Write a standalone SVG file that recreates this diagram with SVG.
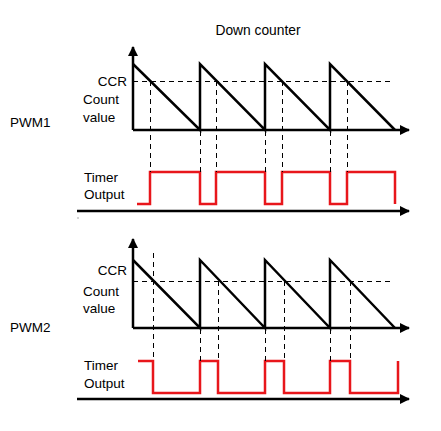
<svg xmlns="http://www.w3.org/2000/svg" width="441" height="431" viewBox="0 0 441 431">
<style>
text{font-family:"Liberation Sans",Arial,sans-serif;font-size:13.5px;fill:#000}
.ax{stroke:#000;stroke-width:2.5;fill:none}
.saw{stroke:#000;stroke-width:2.5;fill:none;stroke-linejoin:miter}
.dash{stroke:#000;stroke-width:1;stroke-dasharray:5,4;fill:none}
.out{stroke:#e8161b;stroke-width:2.5;fill:none;stroke-linejoin:miter}
</style>
<defs>
<marker id="ah" viewBox="0 0 10 10" refX="9" refY="5" markerWidth="10" markerHeight="10" markerUnits="userSpaceOnUse" orient="auto">
<path d="M0,0 L10,5 L0,10 Z" fill="#000"/>
</marker>
</defs>
<rect width="441" height="431" fill="#fff"/>
<text x="258" y="35" text-anchor="middle" style="font-size:13.8px">Down counter</text>
<text x="10" y="127">PWM1</text>
<text x="10" y="332">PWM2</text>
<rect x="77.5" y="217.5" width="1" height="1" fill="#555"/>

<g id="pwm1-counter">
<path class="ax" d="M133,130 V47" marker-end="url(#ah)"/>
<path class="ax" d="M133,130 H409" marker-end="url(#ah)"/>
<path class="saw" d="M133,64 L200,130 V64 L265,130 V64 L330,130 V64 L395,130"/>
<line class="dash" x1="133" y1="81.5" x2="390" y2="81.5"/>
<text x="127" y="86" text-anchor="end">CCR</text>
<text x="83" y="104">Count</text>
<text x="83" y="122">value</text>
</g>

<g id="pwm1-output">
<path class="ax" d="M77,211 H409" marker-end="url(#ah)"/>
<path class="out" d="M137,204 H150 V172 H200 V204 H216 V172 H265 V204 H282 V172 H330 V204 H347 V172 H395 V204"/>
<text x="84" y="182">Timer</text>
<text x="84" y="199">Output</text>
</g>

<g id="pwm2-counter">
<path class="ax" d="M133,328 V239" marker-end="url(#ah)"/>
<path class="ax" d="M133,328 H409" marker-end="url(#ah)"/>
<path class="saw" d="M133,260 L200,328 V260 L265,328 V260 L330,328 V260 L395,328"/>
<line class="dash" x1="133" y1="281.5" x2="390" y2="281.5"/>
<text x="127" y="275" text-anchor="end">CCR</text>
<text x="83" y="296">Count</text>
<text x="83" y="313">value</text>
</g>

<g id="pwm2-output">
<path class="ax" d="M77,399 H409" marker-end="url(#ah)"/>
<path class="out" d="M138,361 H153 V393 H200 V361 H218 V393 H265 V361 H284 V393 H330 V361 H350 V393 H398 V361"/>
<text x="84" y="370">Timer</text>
<text x="84" y="388">Output</text>
</g>

<g id="connectors">
<line class="dash" x1="150.5" y1="81" x2="150.5" y2="172"/>
<line class="dash" x1="216.5" y1="81" x2="216.5" y2="172"/>
<line class="dash" x1="282.5" y1="81" x2="282.5" y2="172"/>
<line class="dash" x1="347.5" y1="81" x2="347.5" y2="172"/>
<line class="dash" x1="200.5" y1="131" x2="200.5" y2="172"/>
<line class="dash" x1="265.5" y1="131" x2="265.5" y2="172"/>
<line class="dash" x1="330.5" y1="131" x2="330.5" y2="172"/>
<line class="dash" x1="153.5" y1="253" x2="153.5" y2="361"/>
<line class="dash" x1="218.5" y1="281" x2="218.5" y2="361"/>
<line class="dash" x1="284.5" y1="281" x2="284.5" y2="361"/>
<line class="dash" x1="350.5" y1="281" x2="350.5" y2="361"/>
<line class="dash" x1="200.5" y1="329" x2="200.5" y2="361"/>
<line class="dash" x1="265.5" y1="329" x2="265.5" y2="361"/>
<line class="dash" x1="330.5" y1="329" x2="330.5" y2="361"/>
</g>
</svg>
